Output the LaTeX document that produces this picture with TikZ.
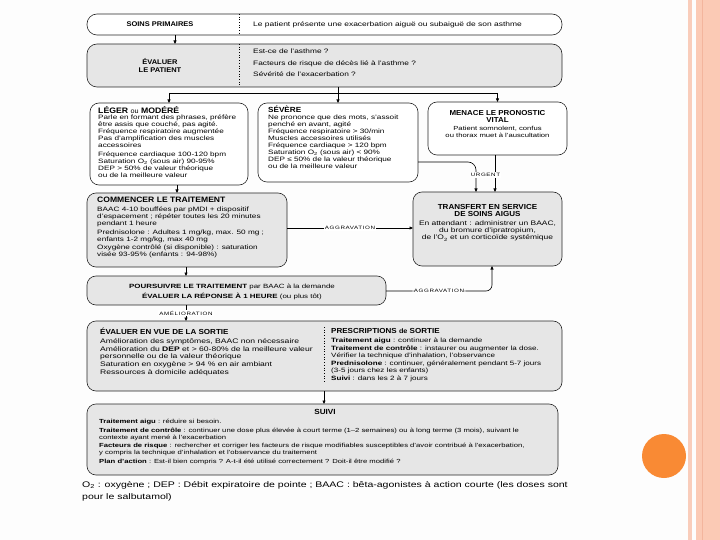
\documentclass[tikz,border=0pt]{standalone}
\usepackage{fontspec}
\setmainfont{Liberation Sans}[FakeStretch=1.3]
\newfontfamily\lblfont{Liberation Sans}[FakeStretch=1.3,LetterSpace=12]
\newfontfamily\ttlfont{Liberation Sans}[FakeStretch=1.1]
\usetikzlibrary{arrows.meta,calc}
\definecolor{boxgray}{HTML}{E6E6E6}
\definecolor{slidebg}{HTML}{FDFDFD}
\definecolor{stripeA}{HTML}{F9CDBB}
\definecolor{stripeB}{HTML}{FBCAB5}
\definecolor{stripeC}{HTML}{F3B59D}
\definecolor{dotorange}{HTML}{F98A34}
\begin{document}
\begin{tikzpicture}[x=1pt,y=-1pt,
  box/.style={draw=black!85, line width=0.6pt, rounded corners=9pt, inner sep=0pt, outer sep=0pt},
  wbox/.style={box, fill=white},
  gbox/.style={box, fill=boxgray},
  txt/.style={anchor=north west, inner sep=0pt, align=left, font=\fontsize{6.3}{7}\selectfont},
  ctxt/.style={anchor=north, inner sep=0pt, align=center, font=\fontsize{6.3}{7}\selectfont},
  ttl/.style={anchor=north west, inner sep=0pt, align=left, font=\ttlfont\bfseries\fontsize{7.6}{8.5}\selectfont},
  arr/.style={-{Triangle[length=3.5pt,width=3pt]}, line width=0.6pt},
  conn/.style={line width=0.6pt},
  lbl/.style={fill=white, inner sep=1.2pt, font=\lblfont\fontsize{4.8}{5}\selectfont}
]
\useasboundingbox (0,0) rectangle (720,540);
% slide background
\fill[slidebg] (0,0) rectangle (720,540);
\fill[stripeA] (688,0) rectangle (692,540);
\fill[stripeB] (696,0) rectangle (720,540);
\fill[stripeC] (701.5,0) rectangle (703.3,540);
\fill[dotorange] (664,456) circle[radius=22pt];

% boxes
\node[wbox, rounded corners=10pt, minimum width=475pt, minimum height=21pt] (soins) at (324.5,24.5) {};
\node[gbox, rounded corners=10pt, minimum width=475pt, minimum height=43pt] (evalp) at (324.5,65.5) {};
\node[wbox, minimum width=158pt, minimum height=82pt] (leger) at (169,144) {};
\node[wbox, minimum width=160pt, minimum height=79pt] (severe) at (338,142.5) {};
\node[wbox, minimum width=139pt, minimum height=53pt] (menace) at (497.5,128.5) {};
\node[gbox, minimum width=200pt, minimum height=74pt] (commencer) at (187,230) {};
\node[gbox, minimum width=149pt, minimum height=74pt] (transfert) at (487.5,229) {};
\node[gbox, minimum width=299pt, minimum height=29pt] (poursuivre) at (236.5,290.5) {};
\node[gbox, minimum width=475pt, minimum height=70pt] (sortie) at (324.5,356) {};
\node[gbox, minimum width=471pt, minimum height=71pt] (suivi) at (322.5,439.5) {};

% helper coordinates
\coordinate (dv1) at (239,0);
\coordinate (dv2) at (324,0);
\coordinate (ax1) at (175,0);
\coordinate (ax2) at (177,0);
\coordinate (ax3) at (186,0);
\coordinate (brk) at (338,93);
\coordinate (ya) at (0,228);
\coordinate (yb) at (0,291);
\coordinate (xb) at (492,0);
\coordinate (yc) at (0,162);
\coordinate (xc) at (476,0);
\coordinate (xd) at (495,0);

% dividers
\draw[dotted, line width=0.7pt] (dv1 |- soins.north) -- (dv1 |- soins.south);
\draw[dotted, line width=0.7pt] (dv1 |- evalp.north) -- (dv1 |- evalp.south);
\draw[dotted, line width=0.7pt] (324,327) -- (324,383);

% texts
\node[anchor=center, inner sep=0pt, font=\ttlfont\bfseries\fontsize{6.8}{7}\selectfont] (t1) at (160,24.5) {SOINS PRIMAIRES};
\node[anchor=west, inner sep=0pt, font=\fontsize{6.5}{7}\selectfont] (t2) at (253,24.5) {Le patient présente une exacerbation aiguë ou subaiguë de son asthme};
\node[anchor=center, inner sep=0pt, align=center, font=\ttlfont\bfseries\fontsize{6.8}{8}\selectfont] (t3) at (160,65.5) {ÉVALUER\\LE PATIENT};
\node[txt, font=\fontsize{6.4}{11.5}\selectfont] (t4) at (253,49) {Est-ce de l'asthme ?\\Facteurs de risque de décès lié à l'asthme ?\\Sévérité de l'exacerbation ?};

\node[ttl, font=\ttlfont\bfseries\fontsize{7.9}{8.5}\selectfont] (t5) at (98,106) {LÉGER {\fontsize{6.6}{7}\selectfont\mdseries ou} MODÉRÉ};
\node[txt] (t6) at (98,115) {Parle en formant des phrases, préfère\\être assis que couché, pas agité.\\Fréquence respiratoire augmentée\\Pas d'amplification des muscles\\accessoires\\[1.2pt]Fréquence cardiaque 100-120 bpm\\Saturation O\textsubscript{2} (sous air) 90-95\%\\DEP > 50\% de valeur théorique\\ou de la meilleure valeur};

\node[ttl, font=\ttlfont\bfseries\fontsize{7.4}{8.5}\selectfont] (t7) at (268,106) {SÉVÈRE};
\node[txt] (t8) at (268,115) {Ne prononce que des mots, s'assoit\\penché en avant, agité\\Fréquence respiratoire > 30/min\\Muscles accessoires utilisés\\Fréquence cardiaque > 120 bpm\\Saturation O\textsubscript{2} (sous air) < 90\%\\DEP ≤ 50\% de la valeur théorique\\ou de la meilleure valeur};

\node[ctxt, font=\ttlfont\bfseries\fontsize{7.2}{7.6}\selectfont] (t9) at (497.5,110) {MENACE LE PRONOSTIC\\VITAL};
\node[ctxt, font=\fontsize{5.9}{7}\selectfont] (t10) at (497.5,126) {Patient somnolent, confus\\ou thorax muet à l'auscultation};

\node[ttl, font=\ttlfont\bfseries\fontsize{7.8}{8.5}\selectfont] (t11) at (97,197) {COMMENCER LE TRAITEMENT};
\node[txt] (t12) at (97,207) {BAAC 4-10 bouffées par pMDI + dispositif\\d'espacement ; répéter toutes les 20 minutes\\pendant 1 heure\\[1.2pt]Prednisolone : Adultes 1 mg/kg, max. 50 mg ;\\enfants 1-2 mg/kg, max 40 mg\\[1.2pt]Oxygène contrôlé (si disponible) : saturation\\visée 93-95\% (enfants : 94-98\%)};

\node[ctxt, font=\ttlfont\bfseries\fontsize{7.3}{7.6}\selectfont] (t13) at (487.5,204) {TRANSFERT EN SERVICE\\DE SOINS AIGUS};
\node[ctxt, font=\fontsize{6.5}{7}\selectfont] (t14) at (487.5,221) {En attendant : administrer un BAAC,\\du bromure d'ipratropium,\\de l'O\textsubscript{2} et un corticoïde systémique};

\node[anchor=center, inner sep=0pt, align=center, font=\fontsize{6.1}{10}\selectfont] (t15) at (232,291.5) {{\bfseries POURSUIVRE LE TRAITEMENT} par BAAC à la demande\\{\bfseries ÉVALUER LA RÉPONSE À 1 HEURE} (ou plus tôt)};

\node[ttl, font=\ttlfont\bfseries\fontsize{7.3}{8.5}\selectfont] (t16) at (100,328) {ÉVALUER EN VUE DE LA SORTIE};
\node[txt, font=\fontsize{6.6}{7.3}\selectfont] (t17) at (100,338) {Amélioration des symptômes, BAAC non nécessaire\\[1pt]Amélioration du {\bfseries DEP} et > 60-80\% de la meilleure valeur\\personnelle ou de la valeur théorique\\[1pt]Saturation en oxygène > 94 \% en air ambiant\\Ressources à domicile adéquates};

\node[ttl, font=\ttlfont\bfseries\fontsize{7.3}{8.5}\selectfont] (t18) at (331,328) {PRESCRIPTIONS {\fontsize{6.6}{7}\selectfont de} SORTIE};
\node[txt, font=\fontsize{6.2}{7}\selectfont] (t19) at (331,338) {{\bfseries Traitement aigu} : continuer à la demande\\[1pt]{\bfseries Traitement de contrôle} : instaurer ou augmenter la dose.\\Vérifier la technique d'inhalation, l'observance\\[1pt]{\bfseries Prednisolone} : continuer, généralement pendant 5-7 jours\\(3-5 jours chez les enfants)\\[1pt]{\bfseries Suivi} : dans les 2 à 7 jours};

\node[anchor=north, inner sep=0pt, font=\ttlfont\bfseries\fontsize{7.4}{8}\selectfont] (t20) at (325,409) {SUIVI};
\node[txt, font=\fontsize{5.9}{7}\selectfont] (t21) at (99,419) {{\bfseries Traitement aigu} : réduire si besoin.\\[1.5pt]{\bfseries Traitement de contrôle} : continuer une dose plus élevée à court terme (1--2 semaines) ou à long terme (3 mois), suivant le\\contexte ayant mené à l'exacerbation\\[1.5pt]{\bfseries Facteurs de risque} : rechercher et corriger les facteurs de risque modifiables susceptibles d'avoir contribué à l'exacerbation,\\y compris la technique d'inhalation et l'observance du traitement\\[1.5pt]{\bfseries Plan d'action} : Est-il bien compris ? A-t-il été utilisé correctement ? Doit-il être modifié ?};

\node[anchor=north west, inner sep=0pt, align=left, font=\fontsize{8.1}{12}\selectfont] (t22) at (82,481) {O\textsubscript{2} : oxygène ; DEP : Débit expiratoire de pointe ; BAAC : bêta-agonistes à action courte (les doses sont\\pour le salbutamol)};

% connectors
\draw[arr] (ax1 |- soins.south) -- (ax1 |- evalp.north);
\draw[conn] (brk |- evalp.south) -- (brk);
\draw[conn] (brk -| leger.north) -- (brk -| menace.north);
\draw[arr] (brk -| leger.north) -- (leger.north);
\draw[arr] (brk) -- (severe.north);
\draw[arr] (brk -| menace.north) -- (menace.north);
\draw[arr] (ax2 |- leger.south) -- (ax2 |- commencer.north);
\draw[arr] (ax3 |- commencer.south) -- (ax3 |- poursuivre.north);
\draw[arr] (ax3 |- poursuivre.south) -- node[lbl, pos=0.5] (l1) {AMÉLIORATION} (ax3 |- sortie.north);
\draw[arr] (dv2 |- sortie.south) -- (dv2 |- suivi.north);
\draw[arr] (commencer.east |- ya) -- node[lbl] (l2) {AGGRAVATION} (transfert.west |- ya);
\draw[arr, rounded corners=6pt] (poursuivre.east |- yb) -- node[lbl] (l3) {AGGRAVATION} (xb |- yb) -- (xb |- transfert.south);
\draw[arr, rounded corners=8pt] (severe.east |- yc) -- (xc |- yc) -- (xc |- transfert.north);
\draw[arr] (xd |- menace.south) -- (xd |- transfert.north);
\node[lbl] (l4) at (485.5,175) {URGENT};
\end{tikzpicture}
\end{document}
